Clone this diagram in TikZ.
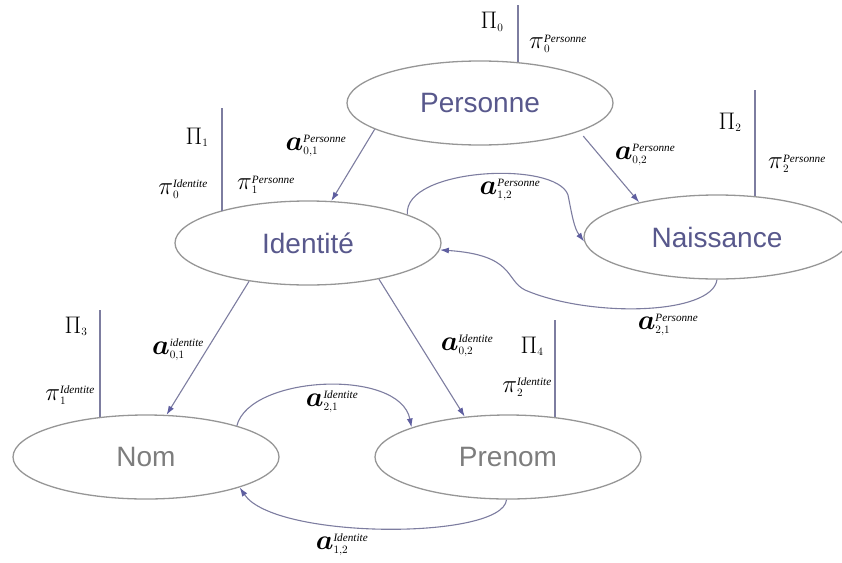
\RequirePackage{fix-cm}
\documentclass[tikz,border=0pt]{standalone}
\usepackage{amsmath}
\usepackage{amssymb}
\usepackage{fontspec}
\setmainfont{Liberation Serif}
\newfontfamily\arialfont{Liberation Sans}
\usetikzlibrary{arrows.meta}
\usetikzlibrary{shapes.geometric}

\definecolor{bleutexte}{RGB}{88,88,140}
\definecolor{grisnom}{RGB}{125,125,125}
\definecolor{contour}{RGB}{150,150,150}
\definecolor{lien}{RGB}{125,125,160}
\definecolor{pointe}{RGB}{95,95,160}

% a grand avec indices, pi et Pi
\newcommand{\arete}[2]{$\mbox{\fontsize{28}{28}\selectfont$\boldsymbol{a}$}_{#1}^{\mathit{#2}}$}
\newcommand{\proj}[2]{$\mbox{\fontsize{25}{25}\selectfont$\pi$}_{#1}^{\mathit{#2}}$}
\newcommand{\Proj}[1]{$\mbox{\fontsize{24}{24}\selectfont$\Pi$}_{#1}$}

\begin{document}
\begin{tikzpicture}[
        x=1pt, y=-1pt, % un point par pixel, y vers le bas
        entite/.style={ellipse, draw=contour, line width=1.3pt,
        minimum width=266pt, minimum height=84pt, inner sep=0pt,
        font=\arialfont\fontsize{28}{30}\selectfont}, % Estilo des ellipses
        fleche/.style={draw=lien, line width=1.1pt,
        -{Latex[length=9pt,width=6pt,color=pointe]}}, % Estilo des fleches
        projection/.style={draw=lien, line width=1.1pt}, % traits verticaux
        etiq/.style={font=\fontsize{16}{18}\selectfont, inner sep=0pt} % etiquettes
    ]
        \useasboundingbox (0,0) rectangle (842,562);

        % --- Les entites ---
        \node[entite, text=bleutexte] (personne) at (480,103) {Personne};
        \node[entite, text=bleutexte] (identite) at (308,243) {Identité};
        \node[entite, text=bleutexte] (naissance) at (717,237) {Naissance};
        \node[entite, text=grisnom] (nom) at (146,457) {Nom};
        \node[entite, text=grisnom] (prenom) at (508,457) {Prenom};

        % --- Les projections (traits verticaux) ---
        \coordinate (haut0) at (518,5);
        \coordinate (haut1) at (222,108);
        \coordinate (haut2) at (755,90);
        \coordinate (haut3) at (100,310);
        \coordinate (haut4) at (555,320);
        \draw[projection] (haut0) -- (haut0 |- personne.46);
        \draw[projection] (haut1) -- (haut1 |- identite.160);
        \draw[projection] (haut2) -- (haut2 |- naissance.47);
        \draw[projection] (haut3) -- (haut3 |- nom.140);
        \draw[projection] (haut4) -- (haut4 |- prenom.40);

        % --- Les fleches ---
        \draw[fleche] (personne.194) -- (identite.61);
        \draw[fleche, shorten <=6pt] (personne.-16) -- (naissance.156);
        \draw[fleche] (identite.16) .. controls (403,168) and (556,160) .. (568,195)
            .. controls (572,215) and (574,228) .. (naissance.182);
        \draw[fleche] (naissance.-90) .. controls (712,315) and (590,318) .. (525,290)
            .. controls (505,280) and (515,255) .. (identite.-3);
        \draw[fleche] (identite.213) -- (nom.64);
        \draw[fleche] (identite.-27) -- (prenom.137);
        \draw[fleche] (nom.19) .. controls (250,375) and (400,368) .. (prenom.163);
        \draw[fleche] (prenom.-92) .. controls (503,540) and (275,540) .. (nom.-18);

        % --- Les etiquettes ---
        \node[etiq] (Pi0) at (492,22) {\Proj{0}};
        \node[etiq] (pi0P) at (558,44) {\proj{0}{Personne}};
        \node[etiq] (Pi1) at (197,137) {\Proj{1}};
        \node[etiq] (pi0I) at (183,189) {\proj{0}{Identite}};
        \node[etiq] (pi1P) at (266,185) {\proj{1}{Personne}};
        \node[etiq] (a01P) at (316,146) {\arete{0,1}{Personne}};
        \node[etiq] (a02P) at (645,155) {\arete{0,2}{Personne}};
        \node[etiq] (Pi2) at (730,122) {\Proj{2}};
        \node[etiq] (pi2P) at (797,164) {\proj{2}{Personne}};
        \node[etiq] (a12P) at (510,190) {\arete{1,2}{Personne}};
        \node[etiq] (a21P) at (668,325) {\arete{2,1}{Personne}};
        \node[etiq] (Pi3) at (76,326) {\Proj{3}};
        \node[etiq] (pi1I) at (70,395) {\proj{1}{Identite}};
        \node[etiq] (a01I) at (178,350) {\arete{0,1}{identite}};
        \node[etiq] (a02I) at (467,346) {\arete{0,2}{Identite}};
        \node[etiq] (Pi4) at (532,346) {\Proj{4}};
        \node[etiq] (pi2I) at (527,387) {\proj{2}{Identite}};
        \node[etiq] (a21I) at (332,402) {\arete{2,1}{Identite}};
        \node[etiq] (a12I) at (342,545) {\arete{1,2}{Identite}};

    \end{tikzpicture}
\end{document}
